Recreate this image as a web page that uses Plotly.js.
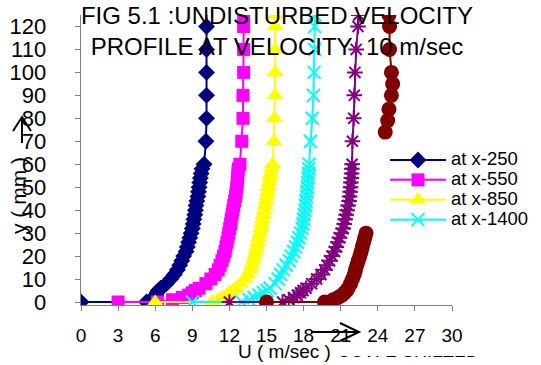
<!DOCTYPE html>
<html>
<head>
<meta charset="utf-8">
<script src="https://cdn.plot.ly/plotly-3.0.1.min.js"></script>
<style>html,body{margin:0;padding:0;background:#fff;}#chart{width:541px;height:365px;}</style>
</head>
<body>
<div id="chart"></div>
<script>
// ---- data (y in mm, U in m/sec, successive profiles shifted by 3 m/sec) ----
const seriesNames = ["at x-250", "at x-550", "at x-850", "at x-1400", "profile 5", "profile 6"];

const yBlue = [0, 0, 1, 2, 3, 4, 5, 6, 8, 10, 12, 14, 16, 18, 20, 22, 24, 26, 28, 30, 32, 34, 36, 38, 40, 42, 44, 46, 48, 50, 52, 54, 56, 58, 60, 70, 80, 90, 100, 110, 120, 130];
const uBlue = [0, 5.3, 5.7, 5.9, 6.05, 6.15, 6.25, 6.45, 6.9, 7.25, 7.55, 7.8, 7.98, 8.15, 8.3, 8.5, 8.6, 8.7, 8.8, 8.9, 9.0, 9.07, 9.13, 9.2, 9.25, 9.3, 9.37, 9.45, 9.5, 9.55, 9.6, 9.65, 9.72, 9.78, 9.95, 10.1, 10.15, 10.15, 10.15, 10.15, 10.15, 10.15];

const yMag = [0, 0, 1, 2, 3, 4, 5, 6, 8, 10, 12, 14, 16, 18, 20, 22, 24, 26, 28, 30, 32, 34, 36, 38, 40, 42, 44, 46, 48, 50, 52, 54, 56, 58, 60, 70, 80, 90, 100, 110, 120, 125];
const uMag = [3, 6.2, 7.4, 8.2, 8.7, 9.0, 9.25, 9.55, 10.1, 10.5, 10.85, 11.1, 11.25, 11.4, 11.52, 11.65, 11.72, 11.8, 11.88, 11.95, 12.02, 12.1, 12.15, 12.22, 12.28, 12.35, 12.42, 12.5, 12.55, 12.6, 12.63, 12.66, 12.69, 12.72, 12.85, 13.0, 13.1, 13.1, 13.15, 13.15, 13.15, 13.15];

const yYel = [0, 0, 1, 2, 3, 4, 5, 6, 8, 10, 12, 14, 16, 18, 20, 22, 24, 26, 28, 30, 32, 34, 36, 38, 40, 42, 44, 46, 48, 50, 52, 54, 56, 58, 60, 70, 80, 90, 100, 110, 120, 125];
const uYel = [6, 10.6, 11.1, 11.45, 11.75, 12.0, 12.25, 12.5, 12.9, 13.25, 13.5, 13.7, 13.82, 13.93, 14.03, 14.13, 14.22, 14.3, 14.38, 14.47, 14.55, 14.62, 14.68, 14.75, 14.82, 14.88, 14.95, 15.02, 15.1, 15.15, 15.22, 15.28, 15.33, 15.4, 15.5, 15.6, 15.65, 15.7, 15.7, 15.7, 15.7, 15.7];

const yCyan = [0, 0, 1, 2, 3, 4, 5, 6, 8, 10, 12, 14, 16, 18, 20, 22, 24, 26, 28, 30, 32, 34, 36, 38, 40, 42, 44, 46, 48, 50, 52, 54, 56, 58, 60, 70, 80, 90, 100, 110, 120, 125];
const uCyan = [9, 13.0, 13.6, 14.0, 14.4, 14.75, 15.05, 15.3, 15.7, 15.95, 16.15, 16.35, 16.6, 16.85, 17.0, 17.2, 17.35, 17.5, 17.62, 17.75, 17.88, 17.95, 18.0, 18.05, 18.1, 18.15, 18.2, 18.23, 18.26, 18.3, 18.33, 18.36, 18.39, 18.42, 18.45, 18.55, 18.7, 18.8, 18.85, 18.9, 18.9, 18.9];

const yPur = [0, 0, 1, 2, 3, 4, 5, 6, 8, 10, 12, 14, 16, 18, 20, 22, 24, 26, 28, 30, 32, 34, 36, 38, 40, 42, 44, 46, 48, 50, 52, 54, 56, 58, 60, 70, 80, 90, 100, 110, 120, 125];
const uPur = [12, 16.3, 16.8, 17.2, 17.5, 17.75, 17.95, 18.2, 18.65, 19.05, 19.4, 19.7, 19.9, 20.1, 20.3, 20.5, 20.65, 20.78, 20.9, 21.05, 21.2, 21.28, 21.36, 21.44, 21.52, 21.6, 21.68, 21.72, 21.76, 21.8, 21.83, 21.86, 21.88, 21.9, 21.92, 21.95, 22.05, 22.1, 22.15, 22.25, 22.4, 22.45];

const yRed = [0, 0, 1, 2, 3, 4, 5, 6, 8, 10, 12, 14, 16, 18, 20, 22, 24, 26, 28, 30, null, 74, 79, 84, 90, 95, 100, 110, 120, 125];
const uRed = [15, 19.7, 20.4, 20.8, 21.1, 21.3, 21.5, 21.6, 21.8, 21.95, 22.1, 22.2, 22.3, 22.42, 22.55, 22.65, 22.75, 22.85, 22.95, 23.05, null, 24.6, 24.8, 24.9, 25.1, 25.2, 25.1, 24.95, 24.95, 24.9];

const xTicks = [0, 3, 6, 9, 12, 15, 18, 21, 24, 27, 30];
const yTicks = [0, 10, 20, 30, 40, 50, 60, 70, 80, 90, 100, 110, 120];

const titleText = "FIG 5.1 :UNDISTURBED VELOCITY<br>PROFILE AT VELOCITY\u00a0\u00a010 m/sec";
const yLabel = "y ( mm )";
const xLabel = "U ( m/sec )";
const noteText = "SCALE SHIFTED";

// ---- styling ----
const FONT = "Liberation Sans, Arial, sans-serif";
const styles = [
  {color: "#000080", symbol: "diamond", size: 13},
  {color: "#FF00FF", symbol: "square", size: 13},
  {color: "#FFFF00", symbol: "triangle-up", size: 15},
  {color: "#00FFFF", symbol: "x-thin-open", size: 13},
  {color: "#800080", symbol: "asterisk-open", size: 13},
  {color: "#800000", symbol: "circle", size: 15}
];
const xs = [uBlue, uMag, uYel, uCyan, uPur, uRed];
const ys = [yBlue, yMag, yYel, yCyan, yPur, yRed];

const traces = xs.map((x, i) => {
  const s = styles[i];
  const open = s.symbol.indexOf("open") >= 0;
  return {
    type: "scatter", mode: "lines+markers",
    x: x, y: ys[i],
    name: i < 4 ? '<span style="font-size:18.5px">' + seriesNames[i] + '</span>' : seriesNames[i],
    showlegend: i < 4,
    connectgaps: false,
    line: {color: s.color, width: 2},
    marker: {symbol: s.symbol, size: s.size, color: s.color,
             line: {color: s.color, width: open ? 2 : 0}}
  };
});

// plot area in pixels: left 81, right 452, top 15, bottom 305
const L = 81, R = 452, T = 15, B = 305;
const px = v => (v - L) / (R - L);
const py = v => (B - v) / (B - T);
const pad = "\u00a0\u00a0\u00a0\u00a0";

const layout = {
  width: 541, height: 365,
  margin: {l: L, r: 541 - R, t: T, b: 365 - B, pad: 0, autoexpand: false},
  paper_bgcolor: "#fff", plot_bgcolor: "#fff",
  font: {family: FONT, color: "#000"},
  showlegend: true,
  title: {text: titleText, font: {family: FONT, size: 24, color: "#000"},
          xref: "container", x: 0.512, xanchor: "center",
          yref: "container", y: 0.935, yanchor: "top"},
  xaxis: {range: [0, 30], tickmode: "array", tickvals: xTicks, ticktext: xTicks.map(String),
          showgrid: false, zeroline: false, showline: true, linecolor: "#808080", linewidth: 1,
          ticks: "outside", ticklen: 5, tickcolor: "#808080", tickwidth: 1,
          ticklabelstandoff: 8, automargin: false,
          tickfont: {family: FONT, size: 19, color: "#000"}},
  yaxis: {range: [-1.3, 125], tickmode: "array", tickvals: yTicks, ticktext: yTicks.map(v => String(v) + pad),
          showgrid: false, zeroline: false, showline: true, linecolor: "#808080", linewidth: 1,
          ticks: "outside", ticklen: 5, tickcolor: "#808080", tickwidth: 1, automargin: false,
          tickfont: {family: FONT, size: 22, color: "#000"}},
  legend: {x: px(385), xanchor: "left", y: py(145), yanchor: "top",
           bgcolor: "rgba(255,255,255,0)", borderwidth: 0,
           font: {family: FONT, size: 13, color: "#000"}, itemwidth: 56},
  annotations: [
    {text: yLabel, xref: "paper", yref: "paper", x: px(18), y: py(196), textangle: -90,
     showarrow: false, xanchor: "center", yanchor: "middle",
     font: {family: FONT, size: 21, color: "#000"}},
    {text: xLabel, xref: "paper", yref: "paper", x: px(284), y: py(351),
     showarrow: false, xanchor: "center", yanchor: "middle",
     font: {family: FONT, size: 19, color: "#000"}},
    {text: noteText, xref: "paper", yref: "paper", x: px(408), y: py(351),
     showarrow: false, xanchor: "center", yanchor: "top", height: 4, valign: "top",
     font: {family: FONT, size: 18, color: "#000"}}
  ],
  shapes: [
    {type: "path", xref: "paper", yref: "paper", layer: "above",
     path: `M${px(22)},${py(143)} L${px(22)},${py(117)} M${px(13)},${py(131)} L${px(22)},${py(117)} L${px(31)},${py(131)}`,
     line: {color: "#000", width: 2}},
    {type: "path", xref: "paper", yref: "paper", layer: "above",
     path: `M${px(311)},${py(332)} L${px(359)},${py(332)} M${px(340)},${py(323)} L${px(359)},${py(332)} L${px(340)},${py(341)}`,
     line: {color: "#000", width: 2}}
  ]
};

Plotly.newPlot("chart", traces, layout, {staticPlot: true, displayModeBar: false});
</script>
</body>
</html>
